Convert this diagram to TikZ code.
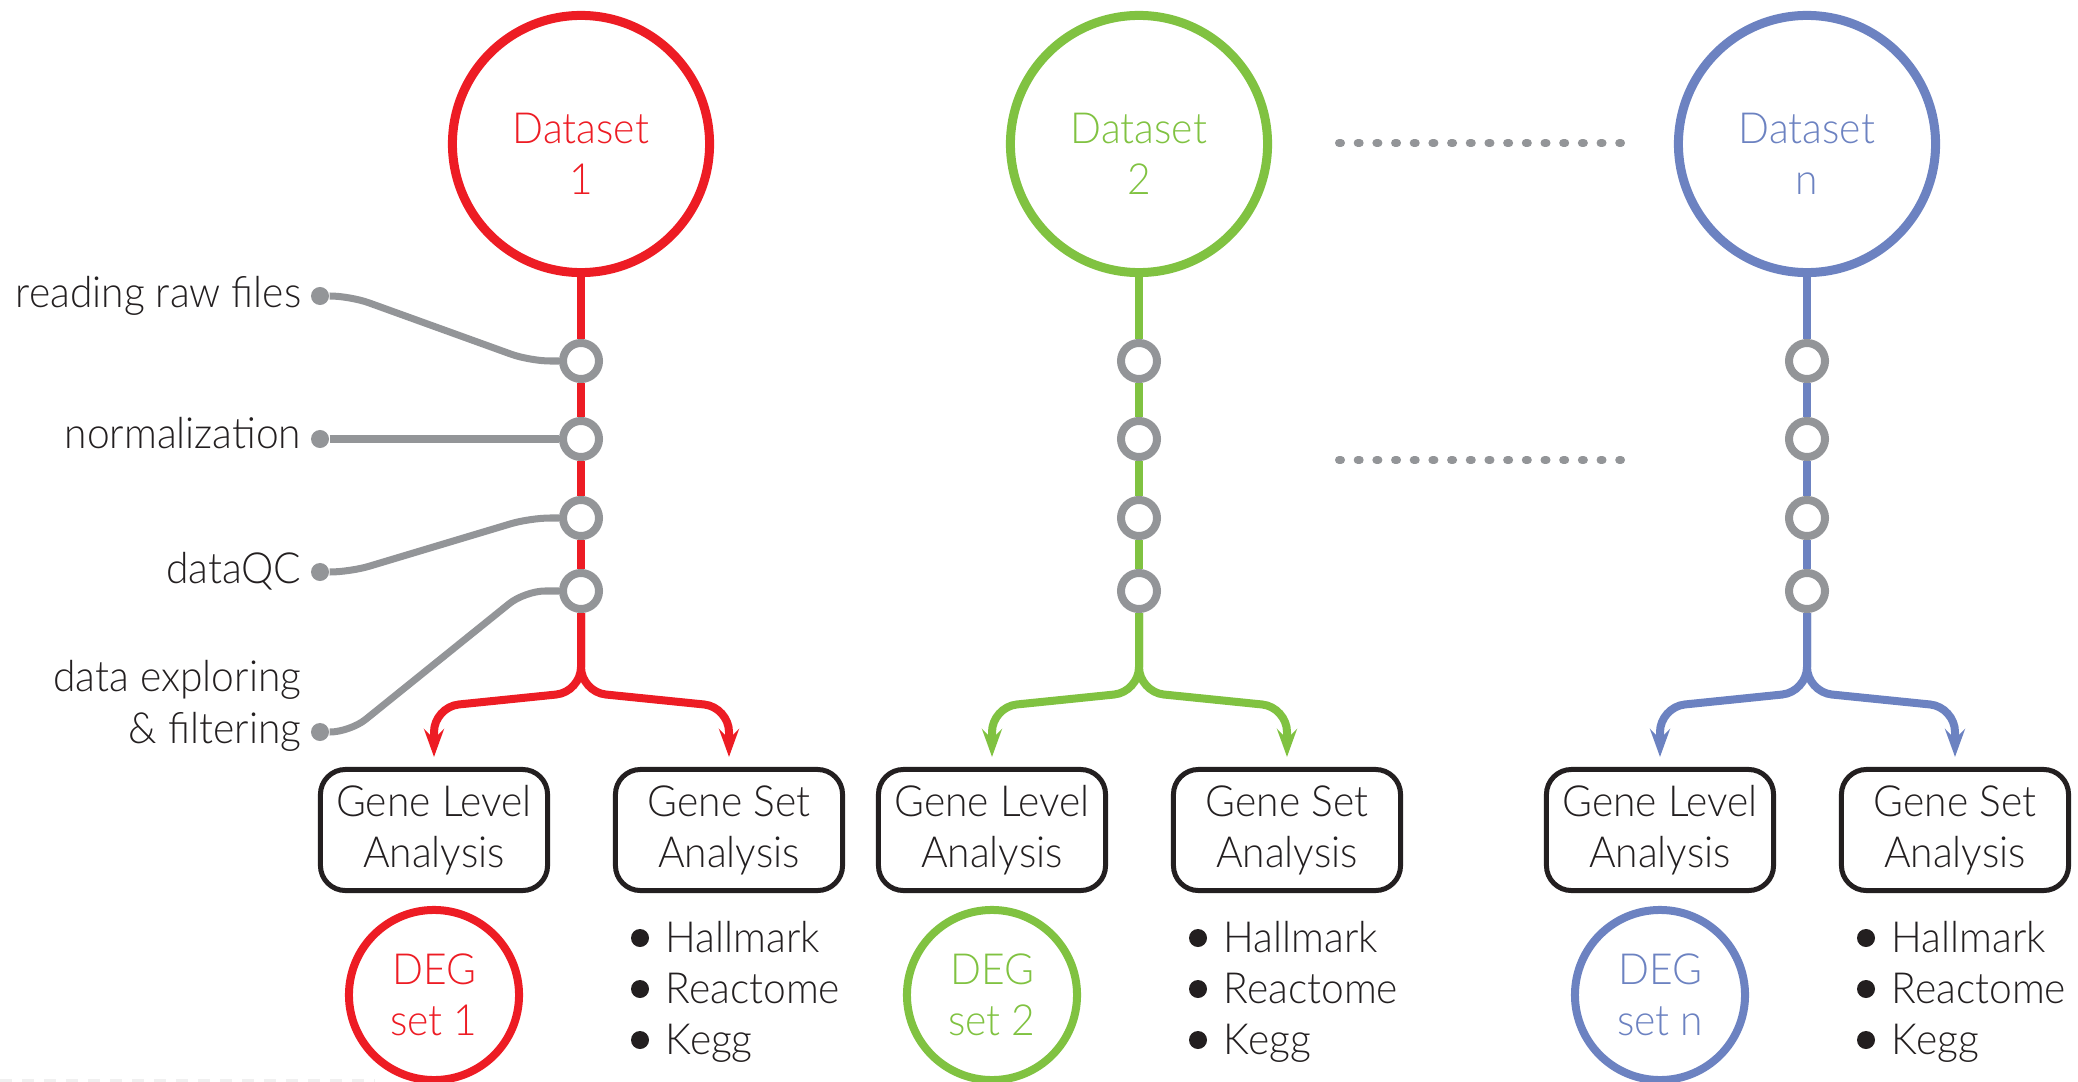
\documentclass[tikz,border=0pt]{standalone}
\usepackage{fontspec}
\IfFontExistsTF{Lato Light}{\setmainfont{Lato Light}[FakeStretch=0.95]}{\setmainfont{Lato}[FakeStretch=0.95]}
\usepackage{tikz}
\usetikzlibrary{positioning,arrows.meta,calc}
\definecolor{dsred}{RGB}{237,28,36}
\definecolor{dsgreen}{RGB}{128,194,65}
\definecolor{dsblue}{RGB}{108,130,193}
\definecolor{stepgray}{RGB}{147,149,152}
\definecolor{inkblack}{RGB}{35,31,32}

\begin{document}
\begin{tikzpicture}[
  x=0.01cm, y=-0.01cm,
  font=\fontsize{12.2}{14.5}\selectfont,
  dataset/.style={circle, draw=#1, line width=0.09cm, minimum size=2.57cm, inner sep=0pt},
  dstext/.style={text=#1, align=center, inner sep=0pt},
  etape/.style={circle, draw=stepgray, fill=white, line width=0.08cm, minimum size=0.36cm, inner sep=0pt},
  flux/.style={draw=#1, line width=0.08cm, rounded corners=0.25cm},
  fleche/.style={flux=#1, -{Stealth[length=0.28cm, width=0.2cm, inset=0.1cm]}},
  analyse/.style={draw=inkblack, line width=0.05cm, rounded corners=0.25cm,
                  minimum width=2.27cm, minimum height=1.21cm, align=center,
                  inner sep=0pt, text=inkblack},
  deg/.style={circle, draw=#1, line width=0.08cm, minimum size=1.70cm,
              inner sep=0pt, text=#1, align=center},
  puce/.style={circle, fill=inkblack, minimum size=0.18cm, inner sep=0pt},
  liste/.style={anchor=base west, inner sep=0pt, text=inkblack},
  pastille/.style={circle, fill=stepgray, minimum size=0.18cm, inner sep=0pt},
  lien/.style={draw=stepgray, line width=0.07cm, rounded corners=0.2cm},
  etiq/.style={anchor=base east, inner sep=0pt, text=inkblack},
  pointille/.style={stepgray, line width=0.08cm, line cap=round,
                    dash pattern=on 0.02cm off 0.1667cm}
]
  \useasboundingbox (0,0) rectangle (2078,1082);

  % Une colonne par jeu de données
  \foreach \cx/\col/\k in {581/dsred/1, 1139/dsgreen/2, 1807/dsblue/n} {
    \node[dataset=\col] (ds\k) at (\cx,144) {};
    \node[dstext=\col] at ([yshift=-0.1cm]ds\k.center) {Dataset\\\k};

    % Étapes du pipeline
    \foreach \y [count=\j] in {361,439,518,591}
      \node[etape] (st\k-\j) at (\cx,\y) {};
    \draw[flux=\col] (ds\k) -- (st\k-1) -- (st\k-2) -- (st\k-3) -- (st\k-4);

    % Deux analyses en sortie
    \coordinate (br\k) at (\cx,692);
    \node[analyse] (gl\k) at (\cx-147,830) {Gene Level\\Analysis};
    \node[analyse] (gs\k) at (\cx+148,830) {Gene Set\\Analysis};
    \draw[fleche=\col] (st\k-4) -- (br\k) -- (\cx-147,707) -- ([yshift=0.1cm]gl\k.north);
    \draw[fleche=\col] (st\k-4) -- (br\k) -- (\cx+148,707) -- ([yshift=0.1cm]gs\k.north);

    % Résultats
    \node[deg=\col] (deg\k) at (\cx-147,995) {DEG\\set \k};
    \foreach \nom [count=\j] in {Hallmark,Reactome,Kegg} {
      \node[puce] (pu\k-\j) at ({\cx+59},{938+51*(\j-1)}) {};
      \node[liste] at ([xshift=0.25cm,yshift=-0.14cm]pu\k-\j.center) {\nom};
    }
  }

  % Légendes des étapes (première colonne)
  \node[pastille] (d1) at (320,296) {};
  \node[pastille] (d2) at (320,439) {};
  \node[pastille] (d3) at (320,572) {};
  \node[pastille] (d4) at (320,732) {};
  \node[etiq] at ([xshift=-0.18cm,yshift=-0.11cm]d1.center) {reading raw files};
  \node[etiq] at ([xshift=-0.18cm,yshift=-0.09cm]d2.center) {normalization};
  \node[etiq] at ([xshift=-0.18cm,yshift=-0.11cm]d3.center) {dataQC};
  \node[etiq] at ([xshift=-0.18cm,yshift=0.40cm]d4.center) {data exploring};
  \node[etiq] at ([xshift=-0.18cm,yshift=-0.11cm]d4.center) {\& filtering};

  \draw[lien] (d1) -- (350,296) -- (530,361) -- (st1-1);
  \draw[lien] (d2) -- (st1-2);
  \draw[lien] (d3) -- (350,572) -- (530,518) -- (st1-3);
  \draw[lien] (d4) -- (350,732) -- (525,591) -- (st1-4);

  % Pointillés entre les colonnes 2 et n
  \coordinate (pa) at (1339,143);
  \coordinate (pb) at (1621,143);
  \coordinate (pc) at (1339,460);
  \coordinate (pd) at (1621,460);
  \draw[pointille] (pa) -- (pb);
  \draw[pointille] (pc) -- (pd);

  % Filet pâle en bas à gauche
  \coordinate (fa) at (0,1080);
  \coordinate (fb) at (375,1080);
  \draw[gray!12, line width=0.03cm, dash pattern=on 0.12cm off 0.1cm] (fa) -- (fb);
\end{tikzpicture}
\end{document}
